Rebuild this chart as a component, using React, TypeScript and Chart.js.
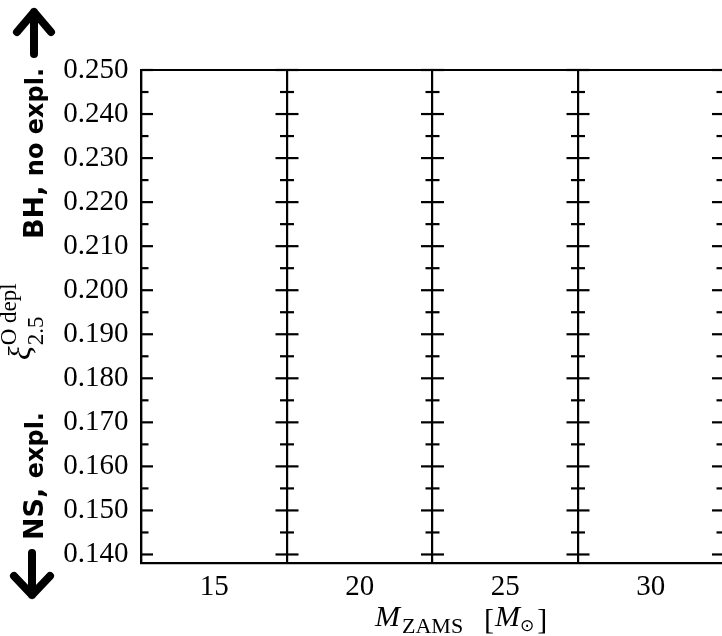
import React, { useEffect, useRef } from 'react';
import { Chart, registerables } from 'chart.js';

Chart.register(...registerables);

// ---- data ----
const massLabels: string[] = ['15', '20', '25', '30'];
const yMajorTicks: number[] = [0.14, 0.15, 0.16, 0.17, 0.18, 0.19, 0.2, 0.21, 0.22, 0.23, 0.24, 0.25];
const yMinorTicks: number[] = [0.145, 0.155, 0.165, 0.175, 0.185, 0.195, 0.205, 0.215, 0.225, 0.235, 0.245];
const yMin = 0.13795;
const yMax = 0.25;
const upLabel = 'BH, no expl.';
const downLabel = 'NS, expl.';

const SERIF = '"Liberation Serif", "DejaVu Serif", serif';
const SANS = '"DejaVu Sans", sans-serif';

const decorPlugin = {
  id: 'decor',
  afterDraw(chart: any) {
    const ctx: CanvasRenderingContext2D = chart.ctx;
    const ca = chart.chartArea;
    const xs = chart.scales.x;
    const ys = chart.scales.y;
    ctx.save();
    ctx.strokeStyle = '#000';
    ctx.fillStyle = '#000';
    ctx.lineWidth = 2.2;
    ctx.lineCap = 'butt';
    // top spine
    ctx.beginPath();
    ctx.moveTo(ca.left - 1, ca.top);
    ctx.lineTo(ca.right + 1, ca.top);
    ctx.stroke();
    // panel dividers with inward ticks on both sides
    const n = massLabels.length;
    const dividers: number[] = [];
    for (let i = 0; i <= n; i++) {
      if (i === 0) dividers.push(ca.left);
      else if (i === n) dividers.push(ca.right);
      else dividers.push((xs.getPixelForTick(i - 1) + xs.getPixelForTick(i)) / 2);
    }
    const drawTicks = (vals: number[], len: number) => {
      dividers.forEach((d, i) => {
        vals.forEach((v) => {
          const y = ys.getPixelForValue(v);
          ctx.beginPath();
          ctx.moveTo(i === 0 ? d : d - len, y);
          ctx.lineTo(i === n ? d : d + len, y);
          ctx.stroke();
        });
      });
    };
    drawTicks(yMajorTicks, 11.5);
    drawTicks(yMinorTicks, 7);

    // arrows
    ctx.lineWidth = 8;
    ctx.lineCap = 'round';
    ctx.lineJoin = 'round';
    ctx.beginPath();
    ctx.moveTo(34, 54);
    ctx.lineTo(34, 12);
    ctx.moveTo(17, 32);
    ctx.lineTo(34, 12);
    ctx.lineTo(51, 32);
    ctx.stroke();
    ctx.beginPath();
    ctx.moveTo(32, 553);
    ctx.lineTo(32, 595);
    ctx.moveTo(14, 576);
    ctx.lineTo(32, 595);
    ctx.lineTo(50, 576);
    ctx.stroke();

    // side labels
    ctx.textBaseline = 'alphabetic';
    ctx.textAlign = 'left';
    ctx.save();
    ctx.translate(43, 239);
    ctx.rotate(-Math.PI / 2);
    ctx.font = 'bold 27px ' + SANS;
    ctx.fillText('BH,', 0, 0);
    let w = ctx.measureText('BH, ').width;
    ctx.font = 'bold 24px ' + SANS;
    ctx.fillText('no expl.', w, 0);
    ctx.restore();
    ctx.save();
    ctx.translate(43, 540);
    ctx.rotate(-Math.PI / 2);
    ctx.font = 'bold 27px ' + SANS;
    ctx.fillText('NS,', 0, 0);
    w = ctx.measureText('NS, ').width;
    ctx.font = 'bold 24px ' + SANS;
    ctx.fillText('expl.', w, 0);
    ctx.restore();

    // y title: xi^{O depl}_{2.5}
    ctx.save();
    ctx.translate(30, 360);
    ctx.rotate(-Math.PI / 2);
    ctx.font = 'italic 32px ' + SERIF;
    ctx.fillText('ξ', 0, 0);
    const xw = ctx.measureText('ξ').width;
    ctx.font = '23px ' + SERIF;
    ctx.fillText('O depl', xw + 1, -14);
    ctx.fillText('2.5', xw + 1, 13);
    ctx.restore();

    // x title: M_ZAMS [M_sun]
    let x = 375;
    const yb = 626;
    ctx.font = 'italic 30px ' + SERIF;
    ctx.fillText('M', x, yb);
    x += ctx.measureText('M').width + 2;
    ctx.font = '22px ' + SERIF;
    ctx.fillText('ZAMS', x, yb + 7);
    x += ctx.measureText('ZAMS').width + 21;
    ctx.font = '30px ' + SERIF;
    ctx.fillText('[', x, yb + 3);
    x += ctx.measureText('[').width + 1;
    ctx.font = 'italic 30px ' + SERIF;
    ctx.fillText('M', x, yb);
    x += ctx.measureText('M').width;
    ctx.font = '17px ' + SANS;
    ctx.fillText('⊙', x, yb + 5);
    x += ctx.measureText('⊙').width + 3;
    ctx.font = '30px ' + SERIF;
    ctx.fillText(']', x, yb + 3);
    ctx.restore();
  },
};

export default function App() {
  const ref = useRef<HTMLCanvasElement | null>(null);
  useEffect(() => {
    if (!ref.current) return;
    const chart = new Chart(ref.current, {
      type: 'line',
      data: {
        labels: massLabels,
        datasets: [{ data: [], borderColor: '#000' }],
      },
      options: {
        animation: false,
        responsive: false,
        layout: { padding: { top: 70, right: 36.5, bottom: 0, left: 0 } },
        plugins: { legend: { display: false }, tooltip: { enabled: false } },
        scales: {
          x: {
            type: 'category',
            offset: true,
            grid: { offset: true, color: '#000', lineWidth: 2.2, drawTicks: false },
            border: { display: true, color: '#000', width: 2.2 },
            ticks: { color: '#000', font: { family: SERIF, size: 29 }, padding: 6, maxRotation: 0 },
            afterFit: (s: any) => { s.height = 72.5; },
          },
          y: {
            type: 'linear',
            min: yMin,
            max: yMax,
            grid: { display: false, drawTicks: false },
            border: { display: true, color: '#000', width: 2.2 },
            ticks: {
              color: '#000',
              font: { family: SERIF, size: 29 },
              padding: 13,
              callback: (v: any) => Number(v).toFixed(3),
            },
            afterBuildTicks: (s: any) => { s.ticks = yMajorTicks.map((v) => ({ value: v })); },
            afterFit: (s: any) => { s.width = 141.5; },
          },
        },
      },
      plugins: [decorPlugin],
    });
    return () => chart.destroy();
  }, []);
  return (
    <div style={{ position: 'fixed', left: 0, top: 0, width: 722, height: 636, overflow: 'hidden', background: '#fff' }}>
      <canvas ref={ref} width={760} height={636} style={{ display: 'block' }} />
    </div>
  );
}
